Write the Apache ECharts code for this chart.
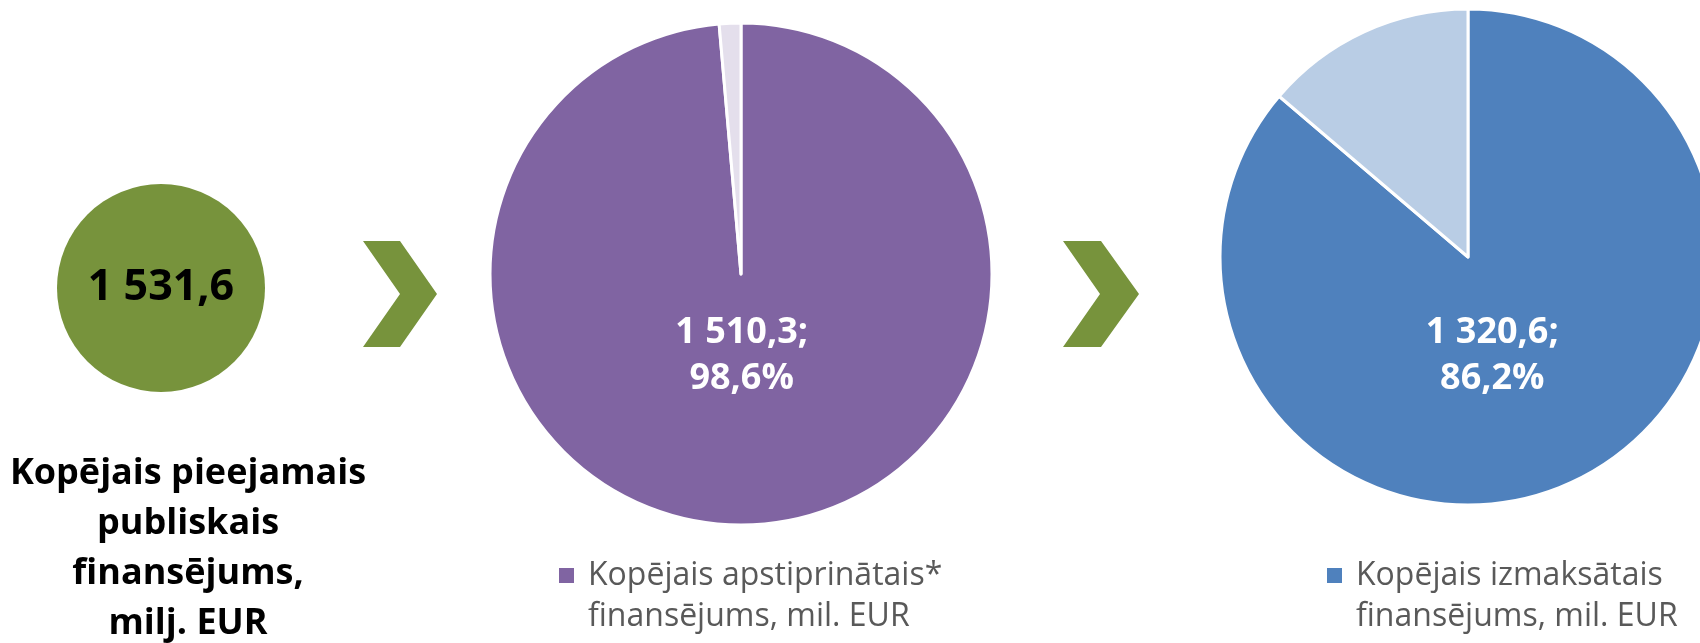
<!DOCTYPE html>
<html>
<head>
<meta charset="utf-8">
<script src="https://cdn.jsdelivr.net/npm/echarts@6/dist/echarts.min.js"></script>
<style>
  html, body { margin: 0; padding: 0; background: #fff; }
  #chart { width: 1700px; height: 643px; }
</style>
</head>
<body>
<div id="chart"></div>
<script>
// dati, milj. EUR
const totalName = 'Kopējais pieejamais\npubliskais\nfinansējums,\nmilj. EUR'
const totalValue = [1531.6]
const pieNames = ['Kopējais apstiprinātais*\nfinansējums, mil. EUR', 'Kopējais izmaksātais\nfinansējums, mil. EUR']
const restNames = ['Neapstiprinātais', 'Neizmaksātais']
const shownValues = [1510.3, 1320.6]
const restValues = [21.3, 211.0]

const FONT = 'Open Sans'

// 1531.6 -> "1 531,6"
const fmt = v => {
  const parts = v.toFixed(1).split('.')
  return parts[0].replace(/\B(?=(\d{3})+(?!\d))/g, ' ') + ',' + parts[1]
}

const chart = echarts.init(document.getElementById('chart'))

// viens pīrāgs ar galveno un atlikušo daļu
const makePie = (i, center, radius, mainColor, restColor, shift) => ({
  type: 'pie',
  center: center,
  radius: radius,
  startAngle: 90,
  clockwise: true,
  silent: true,
  avoidLabelOverlap: false,
  itemStyle: { borderColor: '#fff', borderWidth: 3 },
  labelLine: { show: false },
  labelLayout: shift,
  data: [
    {
      name: pieNames[i],
      value: shownValues[i],
      itemStyle: { color: mainColor },
      label: {
        show: true,
        position: 'inside',
        formatter: p => fmt(p.value) + ';\n' + p.percent.toFixed(1).replace('.', ',') + '%',
        color: '#fff',
        fontFamily: FONT,
        fontWeight: 'bold',
        fontSize: 36,
        lineHeight: 46
      }
    },
    {
      name: restNames[i],
      value: restValues[i],
      itemStyle: { color: restColor },
      label: { show: false }
    }
  ]
})

// leģendas ikona pretī pirmajai rindai: tukša rinda augšā
const legendBase = {
  orient: 'vertical',
  padding: 0,
  selectedMode: false,
  icon: 'rect',
  itemWidth: 17,
  itemHeight: 17,
  formatter: name => '\n' + name,
  textStyle: {
    fontFamily: FONT,
    fontSize: 32,
    color: '#595959',
    lineHeight: 41,
    padding: [0, 0, 0, 8]
  }
}

chart.setOption({
  backgroundColor: '#fff',
  animation: false,
  title: {
    text: totalName,
    left: 188,
    top: 449,
    padding: 0,
    textAlign: 'center',
    textStyle: {
      fontFamily: FONT,
      fontSize: 36,
      fontWeight: 'bold',
      color: '#000',
      lineHeight: 50
    }
  },
  legend: [
    Object.assign({}, legendBase, { data: [pieNames[0]], left: 557, top: 514 }),
    Object.assign({}, legendBase, { data: [pieNames[1]], left: 1325, top: 514 })
  ],
  // bultas
  graphic: [
    {
      type: 'polygon',
      shape: { points: [[363, 241], [400, 241], [437, 294], [400, 347], [363, 347], [400, 294]] },
      style: { fill: '#77933C' }
    },
    {
      type: 'polygon',
      shape: { points: [[1063, 241], [1101, 241], [1139, 294], [1101, 347], [1063, 347], [1100, 294]] },
      style: { fill: '#77933C' }
    }
  ],
  series: [
    {
      type: 'pie',
      center: [161, 288],
      radius: 104,
      silent: true,
      labelLine: { show: false },
      data: [{ name: 'Kopējais pieejamais publiskais finansējums', value: totalValue[0] }],
      itemStyle: { color: '#77933C' },
      label: {
        show: true,
        position: 'center',
        formatter: p => fmt(p.value),
        color: '#000',
        fontFamily: FONT,
        fontWeight: 'bold',
        fontSize: 43
      }
    },
    makePie(0, [741, 274], 251, '#8064A2', '#E4DFEC', { dx: -5, dy: -47 }),
    makePie(1, [1468, 257], 248, '#4F81BD', '#B9CDE5', { dx: -29, dy: -17 })
  ]
})
</script>
</body>
</html>
